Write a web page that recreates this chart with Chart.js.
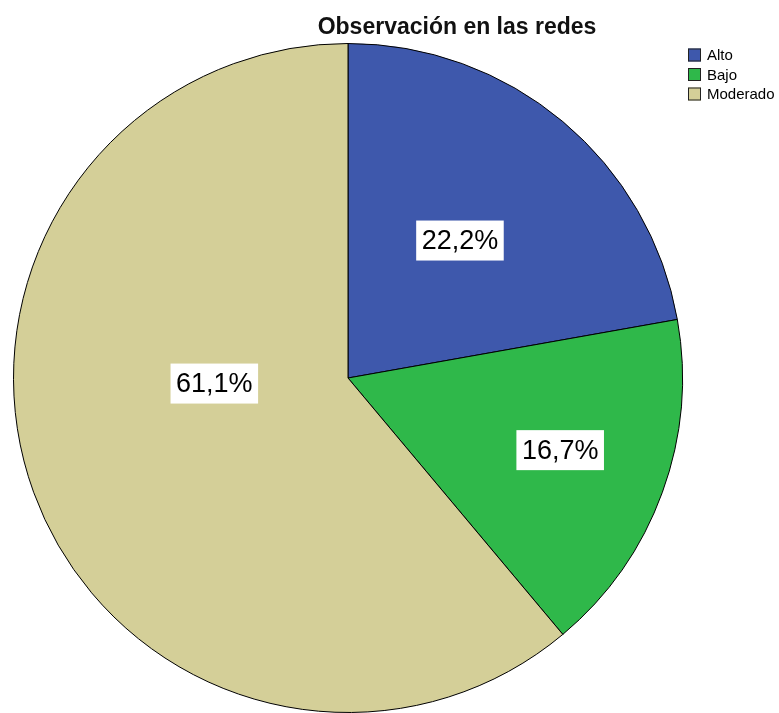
<!DOCTYPE html>
<html>
<head>
<meta charset="utf-8">
<script src="https://cdn.jsdelivr.net/npm/chart.js@4.4.0/dist/chart.umd.min.js"></script>
<style>
  html, body { margin: 0; padding: 0; background: #fff; overflow: hidden; }
  #wrap { position: relative; width: 779px; height: 720px; }
</style>
</head>
<body>
<div id="wrap"><canvas id="grafica" width="779" height="720"></canvas></div>
<script>
const titulo = 'Observación en las redes';
const categorias = ['Alto', 'Bajo', 'Moderado'];
const porcentajes = [22.2, 16.7, 61.1];
const colores = ['#3e58ac', '#2fb84a', '#d4cf98'];

// donde cae cada etiqueta dentro de su porcion (fraccion del angulo y del radio)
const colocacion = [
  { t: 0.49, r: 0.53 },
  { t: 0.48, r: 0.67 },
  { t: 0.58, r: 0.40 }
];

const fuente = '"Liberation Sans", Arial, sans-serif';

const textosPlugin = {
  id: 'textos',
  afterDraw(chart) {
    const ctx = chart.ctx;
    const arcs = chart.getDatasetMeta(0).data;
    ctx.save();

    // etiquetas de porcentaje
    ctx.font = '27px ' + fuente;
    ctx.textAlign = 'center';
    ctx.textBaseline = 'middle';
    arcs.forEach((arc, i) => {
      const p = arc.getProps(['x', 'y', 'startAngle', 'endAngle', 'outerRadius'], true);
      const ang = p.startAngle + (p.endAngle - p.startAngle) * colocacion[i].t;
      const r = p.outerRadius * colocacion[i].r;
      const cx = p.x + Math.cos(ang) * r;
      const cy = p.y + Math.sin(ang) * r;
      const txt = porcentajes[i].toFixed(1).replace('.', ',') + '%';
      const w = ctx.measureText(txt).width + 11;
      const h = 40;
      ctx.fillStyle = '#ffffff';
      ctx.fillRect(cx - w / 2, cy - h / 2, w, h);
      ctx.fillStyle = '#000000';
      ctx.fillText(txt, cx, cy + 1);
    });

    // titulo
    ctx.font = 'bold 23px ' + fuente;
    ctx.fillStyle = '#111';
    ctx.fillText(titulo, 457, 28);

    // leyenda
    ctx.font = '15px ' + fuente;
    ctx.textAlign = 'left';
    categorias.forEach((c, i) => {
      const y = 55 + i * 19.5;
      ctx.fillStyle = colores[i];
      ctx.fillRect(688, y - 6.5, 13, 13);
      ctx.strokeStyle = '#222';
      ctx.lineWidth = 1;
      ctx.strokeRect(688.5, y - 6, 12, 12);
      ctx.fillStyle = '#000';
      ctx.fillText(c, 707, y + 1);
    });
    ctx.restore();
  }
};

new Chart(document.getElementById('grafica'), {
  type: 'pie',
  data: {
    labels: categorias,
    datasets: [{
      data: porcentajes,
      backgroundColor: colores,
      borderColor: '#000000',
      borderWidth: 1
    }]
  },
  options: {
    responsive: false,
    devicePixelRatio: 1,
    animation: false,
    layout: { padding: { left: 13, right: 96, top: 43, bottom: 7 } },
    plugins: {
      legend: { display: false },
      tooltip: { enabled: false }
    }
  },
  plugins: [textosPlugin]
});
</script>
</body>
</html>
